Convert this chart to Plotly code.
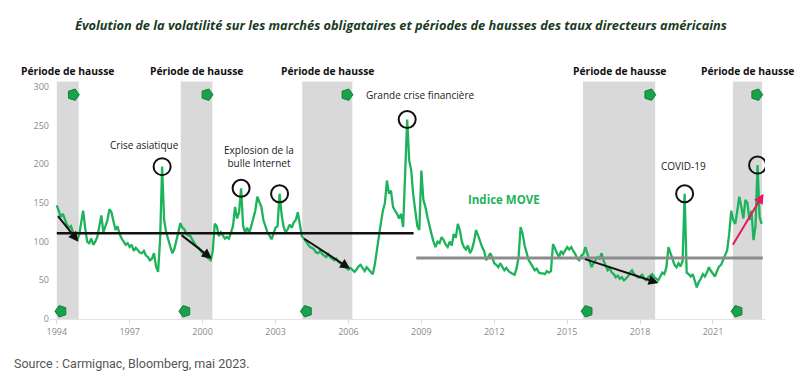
import plotly.graph_objects as go

# ---------------- DATA ----------------
start_year = 1994
move_index = [
    # 1994
    147, 140, 132, 136, 128, 122, 118, 120, 112, 106, 102, 108,
    # 1995
    125, 140, 118, 100, 98, 104, 96, 100, 106, 118, 134, 112,
    # 1996
    120, 128, 142, 138, 126, 115, 120, 110, 104, 100, 96, 98,
    # 1997
    93, 96, 88, 92, 89, 86, 85, 88, 82, 80, 76, 78,
    # 1998
    85, 68, 61, 102, 197, 128, 112, 102, 95, 85, 90, 100,
    # 1999
    112, 124, 118, 116, 110, 108, 107, 102, 98, 94, 92, 88,
    # 2000
    85, 84, 80, 78, 76, 88, 123, 120, 107, 112, 108, 104,
    # 2001
    106, 104, 112, 120, 145, 130, 138, 169, 120, 112, 118, 111,
    # 2002
    120, 132, 140, 158, 150, 145, 128, 119, 112, 108, 103, 110,
    # 2003
    118, 120, 162, 135, 119, 112, 116, 122, 118, 125, 128, 138,
    # 2004
    120, 107, 104, 100, 96, 93, 92, 90, 86, 85, 88, 84,
    # 2005
    82, 80, 84, 80, 78, 76, 78, 74, 72, 70, 67, 66,
    # 2006
    64, 66, 63, 61, 64, 68, 70, 65, 62, 67, 64, 60,
    # 2007
    58, 70, 90, 110, 124, 140, 150, 179, 162, 166, 145, 140,
    # 2008
    136, 130, 136, 119, 180, 258, 205, 192, 160, 136, 120, 115,
    # 2009
    192, 154, 145, 132, 119, 110, 100, 93, 100, 98, 106, 102,
    # 2010
    96, 93, 100, 95, 110, 105, 123, 115, 100, 93, 90, 95,
    # 2011
    85, 90, 100, 115, 108, 100, 93, 88, 76, 80, 85, 80,
    # 2012
    72, 70, 67, 72, 68, 63, 66, 62, 60, 59, 57, 65,
    # 2013
    80, 119, 110, 95, 84, 76, 72, 68, 63, 65, 60, 59,
    # 2014
    59, 58, 62, 60, 62, 97, 90, 85, 80, 88, 84, 89,
    # 2015
    93, 90, 93, 88, 84, 78, 76, 82, 84, 93, 85, 78,
    # 2016
    67, 72, 76, 80, 78, 85, 75, 70, 63, 66, 60, 58,
    # 2017
    54, 56, 52, 54, 50, 52, 55, 60, 63, 58, 56, 54,
    # 2018
    54, 58, 52, 50, 54, 56, 58, 54, 52, 50, 55, 60,
    # 2019
    58, 67, 93, 85, 76, 70, 67, 72, 68, 75, 162, 60,
    # 2020
    58, 55, 58, 50, 41, 48, 52, 58, 55, 60, 67, 62,
    # 2021
    58, 55, 62, 68, 70, 76, 82, 89, 110, 140, 128, 123,
    # 2022
    140, 158, 145, 130, 154, 150, 128, 140, 102, 120, 199, 132,
    # 2023
    123,
]
dates = [start_year + i / 12 for i in range(len(move_index))]

# rate-hike periods (decimal years)
hike_start = [1994.0, 1999.1, 2004.1, 2015.65, 2021.82]
hike_end = [1994.9, 2000.4, 2006.16, 2018.62, 2023.02]
hike_label = "Période de hausse"

# circled peaks (index of month in series)
peak_months = [52, 91, 110, 173, 310, 346]

# average levels
avg_levels = [111, 79]
avg_start = [1994.0, 2008.79]
avg_end = [2008.68, 2023.05]

# trend arrows: (x0, y0) -> (x1, y1)
trend_x0 = [1994.0, 1999.07, 2004.12, 2015.67, 2021.78]
trend_y0 = [135, 110, 105, 78, 94]
trend_x1 = [1994.89, 2000.38, 2006.07, 2018.76, 2023.08]
trend_y1 = [100, 78, 65, 46.5, 162]
trend_colors = ["#111111", "#111111", "#111111", "#111111", "#e8175d"]

x_ticks = [1994, 1997, 2000, 2003, 2006, 2009, 2012, 2015, 2018, 2021]
y_ticks = [0, 50, 100, 150, 200, 250, 300]

# event labels
event_text = ["Crise asiatique", "Explosion de la<br>bulle Internet",
              "Grande crise financière", "COVID-19"]
event_x = [1997.60, 2002.30, 2008.95, 2019.79]
event_y = [224.6, 210.4, 289.3, 197.5]

GREEN = "#1db35a"

fig = go.Figure()

# shaded hike periods
for s, e in zip(hike_start, hike_end):
    fig.add_shape(type="rect", xref="x", yref="y", x0=s, x1=e, y0=0, y1=307,
                  fillcolor="#d9d9d9", line_width=0, layer="below")
    fig.add_annotation(x=(s + e) / 2, y=1.0377, xref="x", yref="paper", text=hike_label,
                       showarrow=False, yanchor="middle",
                       font=dict(family="Open Sans", size=10.3, color="#111111", weight="bold"))

# MOVE series
fig.add_trace(go.Scatter(x=dates, y=move_index, mode="lines",
                         line=dict(color=GREEN, width=2.3), hoverinfo="skip", showlegend=False))

# average lines
line_colors = ["#111111", "#8c8c8c"]
line_widths = [2.5, 3]
for lv, s, e, c, w in zip(avg_levels, avg_start, avg_end, line_colors, line_widths):
    fig.add_shape(type="line", xref="x", yref="y", x0=s, x1=e, y0=lv, y1=lv,
                  line=dict(color=c, width=w), layer="above")

# green tag markers
fig.add_trace(go.Scatter(x=[e - 0.22 for e in hike_end], y=[290] * len(hike_end), mode="markers",
                         marker=dict(symbol="pentagon", angle=90, size=12, color="#19a24d",
                                     line=dict(color="#0f7f38", width=1)),
                         hoverinfo="skip", showlegend=False))
fig.add_trace(go.Scatter(x=[s + 0.17 for s in hike_start], y=[10] * len(hike_start), mode="markers",
                         marker=dict(symbol="pentagon", angle=-90, size=12, color="#19a24d",
                                     line=dict(color="#0f7f38", width=1)),
                         hoverinfo="skip", showlegend=False))

# circled peaks
fig.add_trace(go.Scatter(x=[dates[i] for i in peak_months], y=[move_index[i] for i in peak_months],
                         mode="markers",
                         marker=dict(symbol="circle-open", size=17, color="#111111",
                                     line=dict(width=2, color="#111111")),
                         hoverinfo="skip", showlegend=False))

# trend arrows
for x0, y0, x1, y1, c in zip(trend_x0, trend_y0, trend_x1, trend_y1, trend_colors):
    fig.add_annotation(x=x1, y=y1, ax=x0, ay=y0, xref="x", yref="y", axref="x", ayref="y",
                       text="", showarrow=True, arrowhead=2, arrowsize=1, arrowwidth=2,
                       arrowcolor=c, standoff=0, startstandoff=0)

# event labels
for t, x, y in zip(event_text, event_x, event_y):
    fig.add_annotation(x=x, y=y, xref="x", yref="y", text=t, showarrow=False,
                       font=dict(family="Open Sans", size=10, color="#222222"))

fig.add_annotation(x=2012.41, y=154.8, xref="x", yref="y", text="Indice MOVE", showarrow=False,
                   font=dict(family="Open Sans", size=11.5, color=GREEN, weight="bold"))

# source
fig.add_annotation(x=-0.053, y=-0.186, xref="paper", yref="paper", xanchor="left",
                   yanchor="middle", text="Source : Carmignac, Bloomberg, mai 2023.",
                   showarrow=False, font=dict(family="Roboto", size=12.5, color="#555555"))

fig.update_layout(
    width=802, height=374,
    margin=dict(l=42, r=45, t=72, b=63),
    paper_bgcolor="white", plot_bgcolor="white",
    title=dict(text="Évolution de la volatilité sur les marchés obligataires et périodes de hausses des taux directeurs américains",
               x=0.49, xanchor="center", xref="container", y=0.952, yanchor="middle",
               font=dict(family="Liberation Sans Narrow, Open Sans", size=12.8, color="#1b3b1f",
                         weight="bold", style="italic")),
    xaxis=dict(range=[1993.72, 2023.14], tickvals=x_ticks, ticktext=[str(v) for v in x_ticks],
               showgrid=False, zeroline=False, showline=True, linecolor="#e3e3e3", linewidth=1,
               ticks="outside", ticklen=4, tickcolor="#dddddd",
               tickfont=dict(family="Open Sans", size=9, color="#8a8a8a")),
    yaxis=dict(range=[0, 309], tickvals=y_ticks, showgrid=False, zeroline=False, showline=False,
               tickfont=dict(family="Open Sans", size=9, color="#8a8a8a"), ticks=""),
    showlegend=False,
)

fig.write_html("out.html")
